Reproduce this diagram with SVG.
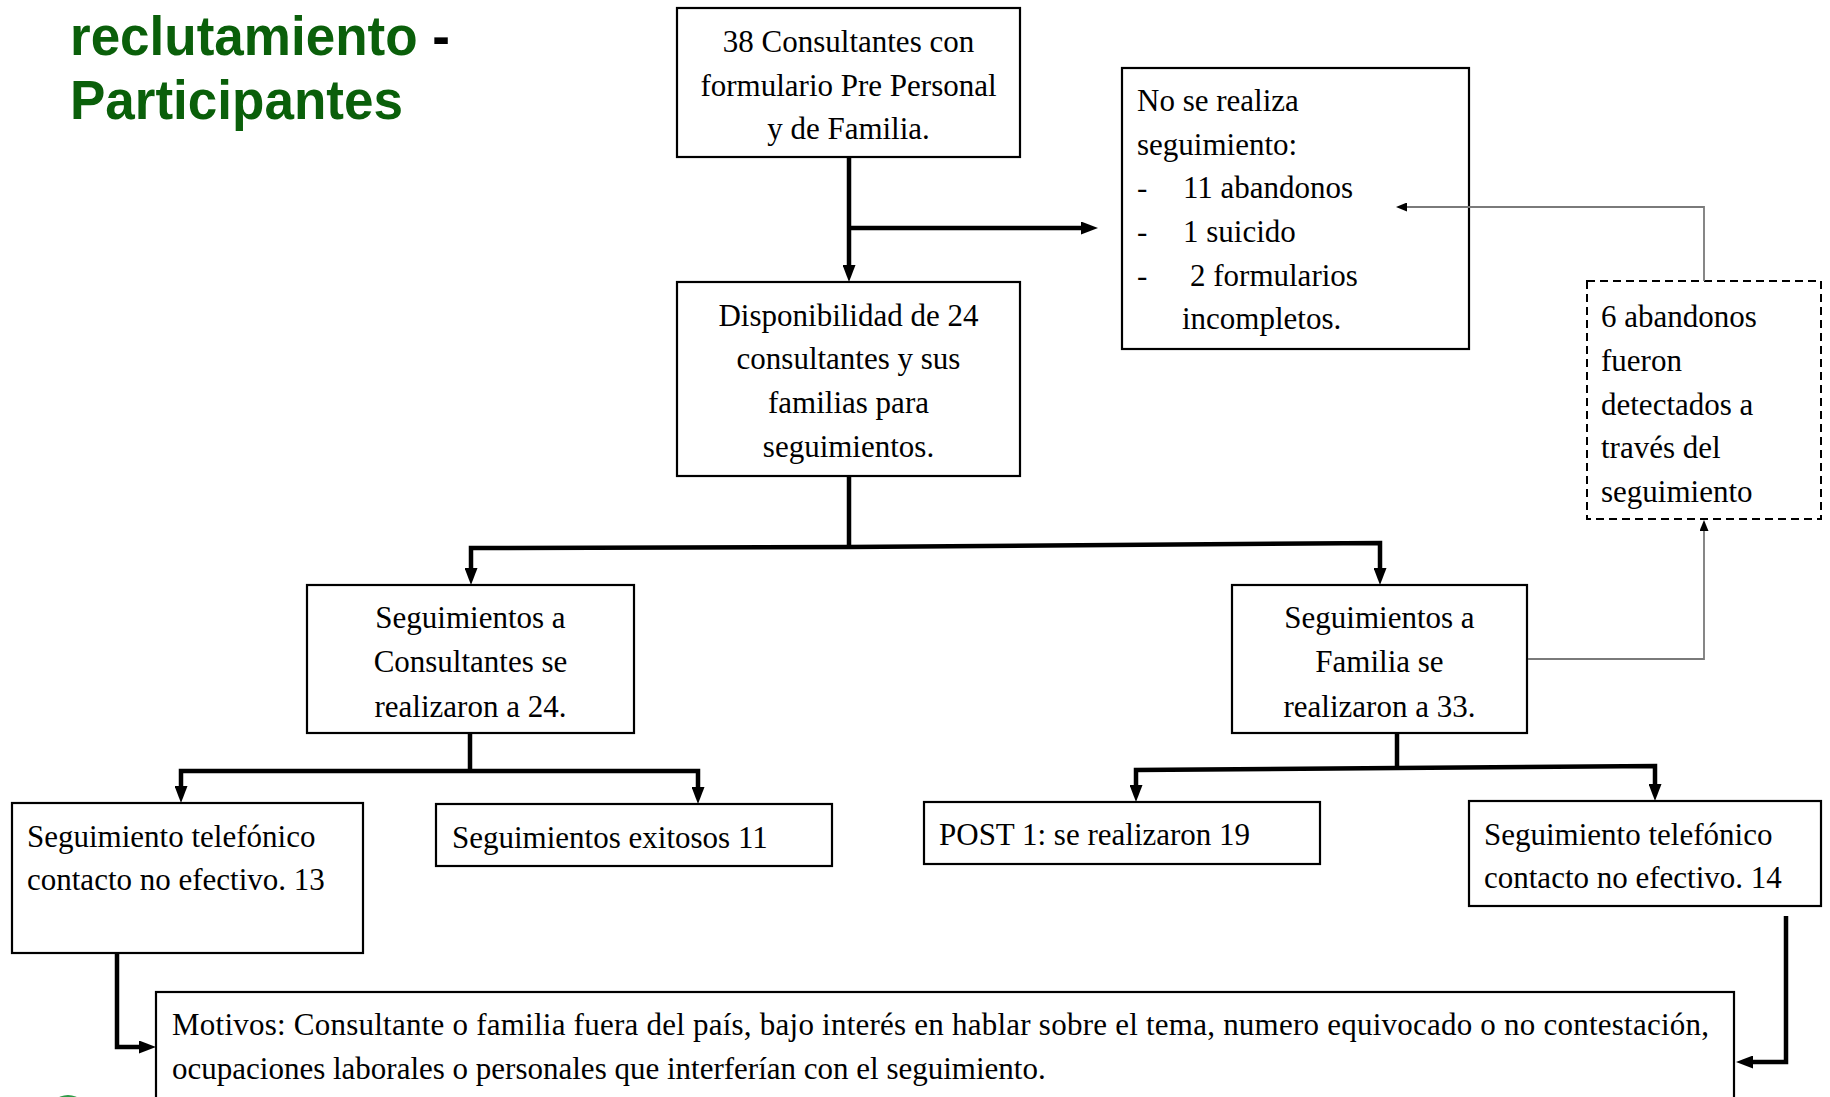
<svg xmlns="http://www.w3.org/2000/svg" width="1830" height="1097" viewBox="0 0 1830 1097">
<style>
.box{fill:#fff;stroke:#000;stroke-width:2.2}
.dash{fill:#fff;stroke:#000;stroke-width:2;stroke-dasharray:8 5}
.t{font-family:"Liberation Serif","Times New Roman",serif;font-size:31px;fill:#000}
.c{text-anchor:middle}
.thick{fill:none;stroke:#000;stroke-width:4.5;stroke-linejoin:miter}
.thin{fill:none;stroke:#7a7a7a;stroke-width:1.8}
.title{font-family:"Liberation Sans",Arial,sans-serif;font-weight:bold;font-size:56px;fill:#0a5f0a}
</style>
<defs>
<marker id="ah" viewBox="0 0 17 13" refX="7" refY="6.5" markerWidth="17" markerHeight="13" markerUnits="userSpaceOnUse" orient="auto"><path d="M0,0 L17,6.5 L0,13 z" fill="#000"/></marker>
<marker id="ahs" viewBox="0 0 11 9" refX="1" refY="4.5" markerWidth="11" markerHeight="9" markerUnits="userSpaceOnUse" orient="auto"><path d="M0,0 L11,4.5 L0,9 z" fill="#000"/></marker>
</defs>

<g id="title">
<text class="title" transform="translate(70,55) scale(0.947,1)">reclutamiento <tspan style="fill:#000">-</tspan></text>
<text class="title" transform="translate(70,119) scale(0.947,1)">Participantes</text>
</g>

<g id="n1">
<rect class="box" x="677" y="8" width="343" height="149"/>
<text class="t c" x="848.5" y="52">38 Consultantes  con</text>
<text class="t c" x="848.5" y="96">formulario  Pre Personal</text>
<text class="t c" x="848.5" y="139">y de Familia.</text>
</g>

<g id="n2">
<rect class="box" x="1122" y="68" width="347" height="281"/>
<text class="t" x="1137" y="111">No se realiza</text>
<text class="t" x="1137" y="155">seguimiento:</text>
<text class="t" x="1137" y="198">-</text><text class="t" x="1183" y="198">11 abandonos</text>
<text class="t" x="1137" y="242">-</text><text class="t" x="1183" y="242">1 suicido</text>
<text class="t" x="1137" y="286">-</text><text class="t" x="1190" y="286">2 formularios</text>
<text class="t" x="1182" y="329">incompletos.</text>
</g>

<g id="n3">
<rect class="box" x="677" y="282" width="343" height="194"/>
<text class="t c" x="848.5" y="326">Disponibilidad  de 24</text>
<text class="t c" x="848.5" y="369">consultantes  y sus</text>
<text class="t c" x="848.5" y="413">familias para</text>
<text class="t c" x="848.5" y="457">seguimientos.</text>
</g>

<g id="n4">
<rect class="dash" x="1587" y="281" width="234" height="238"/>
<text class="t" x="1601" y="327">6 abandonos</text>
<text class="t" x="1601" y="371">fueron</text>
<text class="t" x="1601" y="415">detectados  a</text>
<text class="t" x="1601" y="458">través del</text>
<text class="t" x="1601" y="502">seguimiento</text>
</g>

<g id="n5">
<rect class="box" x="307" y="585" width="327" height="148"/>
<text class="t c" x="470.5" y="628">Seguimientos  a</text>
<text class="t c" x="470.5" y="672">Consultantes  se</text>
<text class="t c" x="470.5" y="717">realizaron  a 24.</text>
</g>

<g id="n6">
<rect class="box" x="1232" y="585" width="295" height="148"/>
<text class="t c" x="1379.5" y="628">Seguimientos  a</text>
<text class="t c" x="1379.5" y="672">Familia  se</text>
<text class="t c" x="1379.5" y="717">realizaron  a 33.</text>
</g>

<g id="n7">
<rect class="box" x="12" y="803" width="351" height="150"/>
<text class="t" x="27" y="847">Seguimiento  telefónico</text>
<text class="t" x="27" y="890">contacto  no efectivo.  13</text>
</g>

<g id="n8">
<rect class="box" x="436" y="804" width="396" height="62"/>
<text class="t" x="452" y="848">Seguimientos  exitosos  11</text>
</g>

<g id="n9">
<rect class="box" x="924" y="802" width="396" height="62"/>
<text class="t" x="939" y="845">POST 1: se realizaron 19</text>
</g>

<g id="n10">
<rect class="box" x="1469" y="801" width="352" height="105"/>
<text class="t" x="1484" y="845">Seguimiento  telefónico</text>
<text class="t" x="1484" y="888">contacto  no efectivo.  14</text>
</g>

<g id="n11">
<rect class="box" x="156" y="992" width="1578" height="130"/>
<text class="t" x="172" y="1035" textLength="1537" lengthAdjust="spacing">Motivos: Consultante o familia fuera del país, bajo interés en hablar sobre el tema, numero equivocado o no contestación,</text>
<text class="t" x="172" y="1079">ocupaciones  laborales  o personales  que interferían  con el seguimiento.</text>
</g>

<g id="logo">
<circle cx="68" cy="1115" r="20" fill="#2e9b48"/>
</g>

<g id="connectors">
<path class="thick" d="M849,157 V272" marker-end="url(#ah)"/>
<path class="thick" d="M849,228 H1088" marker-end="url(#ah)"/>
<path class="thick" d="M849,476 V547"/>
<path class="thick" d="M849,547 L471,548 V575" marker-end="url(#ah)"/>
<path class="thick" d="M849,547 L1380,543 V575" marker-end="url(#ah)"/>
<path class="thick" d="M470,733 V771"/>
<path class="thick" d="M470,771 H181 V793" marker-end="url(#ah)"/>
<path class="thick" d="M470,771 H698 V794" marker-end="url(#ah)"/>
<path class="thick" d="M1397,733 V768"/>
<path class="thick" d="M1397,768 L1136,770 V792" marker-end="url(#ah)"/>
<path class="thick" d="M1397,768 L1655,766 V791" marker-end="url(#ah)"/>
<path class="thick" d="M117,953 V1047 H146" marker-end="url(#ah)"/>
<path class="thick" d="M1786,916 V1062 H1746" marker-end="url(#ah)"/>
<path class="thin" d="M1528,659 H1704 V530" marker-end="url(#ahs)"/>
<path class="thin" d="M1704,281 V207 H1406" marker-end="url(#ahs)"/>
</g>
</svg>
